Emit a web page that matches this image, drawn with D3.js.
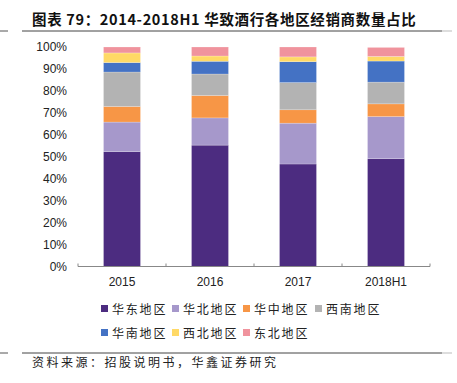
<!DOCTYPE html>
<html><head><meta charset="utf-8">
<script src="https://cdn.jsdelivr.net/npm/d3@7"></script>
<style>body{margin:0;background:#fff}svg{display:block}</style>
</head><body>
<script>
const categories = ["2015", "2016", "2017", "2018H1"];
const seriesNames = ["华东地区", "华北地区", "华中地区", "西南地区", "华南地区", "西北地区", "东北地区"];
const eastChina      = [52.3, 55.3, 46.7, 49.1];
const northChina     = [13.5, 12.4, 18.6, 19.2];
const centralChina   = [7.1, 10.2, 6.1, 5.8];
const southwest      = [15.7, 9.8, 12.4, 9.9];
const southChina     = [4.3, 5.8, 9.5, 9.6];
const northwest      = [4.4, 2.4, 2.2, 2.1];
const northeast      = [2.7, 4.1, 4.5, 4.1];
const yTicks = [0, 10, 20, 30, 40, 50, 60, 70, 80, 90, 100];
const colors = ["#4C2C80", "#A698CB", "#F79646", "#B3B3B3", "#4472C4", "#FFD966", "#F0939D"];

const seriesValues = [eastChina, northChina, centralChina, southwest, southChina, northwest, northeast];
const table = categories.map((c, i) => {
  const o = {cat: c};
  seriesNames.forEach((s, j) => o[s] = seriesValues[j][i]);
  return o;
});

const W = 457, H = 383;
const svg = d3.select("body").append("svg").attr("width", W).attr("height", H);

// title & rules
svg.append("text").attr("x", 32).attr("y", 25)
  .attr("font-family", "'Noto Sans CJK SC', sans-serif").attr("font-weight", "bold")
  .attr("font-size", 14.5).attr("letter-spacing", 0.65).attr("fill", "#111").text("图表 79：2014-2018H1 华致酒行各地区经销商数量占比");
[[31],[353]].forEach(([y]) => {
  svg.append("line").attr("x1", 0).attr("x2", 8).attr("y1", y).attr("y2", y).attr("stroke", "#555").attr("stroke-width", 1);
  svg.append("line").attr("x1", 22).attr("x2", 442).attr("y1", y).attr("y2", y).attr("stroke", "#444").attr("stroke-width", 1);
  svg.append("line").attr("x1", 442).attr("x2", 452).attr("y1", y).attr("y2", y).attr("stroke", "#bbb").attr("stroke-width", 1);
});

const x = d3.scaleBand().domain(categories).range([78, 430]).paddingInner(0.58).paddingOuter(0.29);
const y = d3.scaleLinear().domain([0, 100]).range([266.5, 47]);

const stack = d3.stack().keys(seriesNames)(table);
svg.append("g").selectAll("g").data(stack).join("g")
  .attr("fill", (d, i) => colors[i])
  .selectAll("rect").data(d => d).join("rect")
  .attr("x", d => x(d.data.cat))
  .attr("width", x.bandwidth())
  .attr("y", d => y(d[1]))
  .attr("height", d => y(d[0]) - y(d[1]))
  .attr("stroke", "rgba(255,255,255,0.35)").attr("stroke-width", 0.6);

// y axis labels
const yAxis = d3.axisLeft(y).tickValues(yTicks).tickFormat(d => d + "%").tickSize(0).tickPadding(0);
const ya = svg.append("g").attr("transform", "translate(67,0)").call(yAxis);
ya.select(".domain").remove();
ya.selectAll("text").attr("font-family", "'Liberation Sans', Arial, sans-serif").attr("font-size", 12).attr("fill", "#222");

// x axis
const xa = svg.append("g").attr("transform", "translate(0,266.5)")
  .call(d3.axisBottom(x).tickSize(0).tickPadding(11));
xa.select(".domain").attr("stroke", "#888").attr("d", "M78,-3V0H430V-3");
xa.selectAll("text").attr("font-family", "'Liberation Sans', Arial, sans-serif").attr("font-size", 12).attr("fill", "#222");
const step = x.step();
[1, 2, 3].forEach(i => {
  const bx = 78 + step * i;
  xa.append("line").attr("x1", bx).attr("x2", bx).attr("y1", 0).attr("y2", -3).attr("stroke", "#888");
});

// legend
const legendPos = [[101, 309], [172, 309], [243, 309], [315, 309], [101, 333], [172, 333], [243, 333]];
const lg = svg.append("g");
seriesNames.forEach((s, i) => {
  const [lx, ly] = legendPos[i];
  lg.append("rect").attr("x", lx).attr("y", ly - 4).attr("width", 7).attr("height", 7).attr("fill", colors[i]);
  lg.append("text").attr("x", lx + 11).attr("y", ly + 4.5)
    .attr("font-family", "'Noto Sans CJK SC', sans-serif").attr("font-size", 12)
    .attr("letter-spacing", 1.8).attr("fill", "#222").text(s);
});

// source
svg.append("text").attr("x", 32).attr("y", 367)
  .attr("font-family", "'Noto Sans CJK SC', sans-serif").attr("font-size", 12)
  .attr("letter-spacing", 2.5).attr("fill", "#222").text("资料来源：招股说明书，华鑫证券研究");
</script>
</body></html>
